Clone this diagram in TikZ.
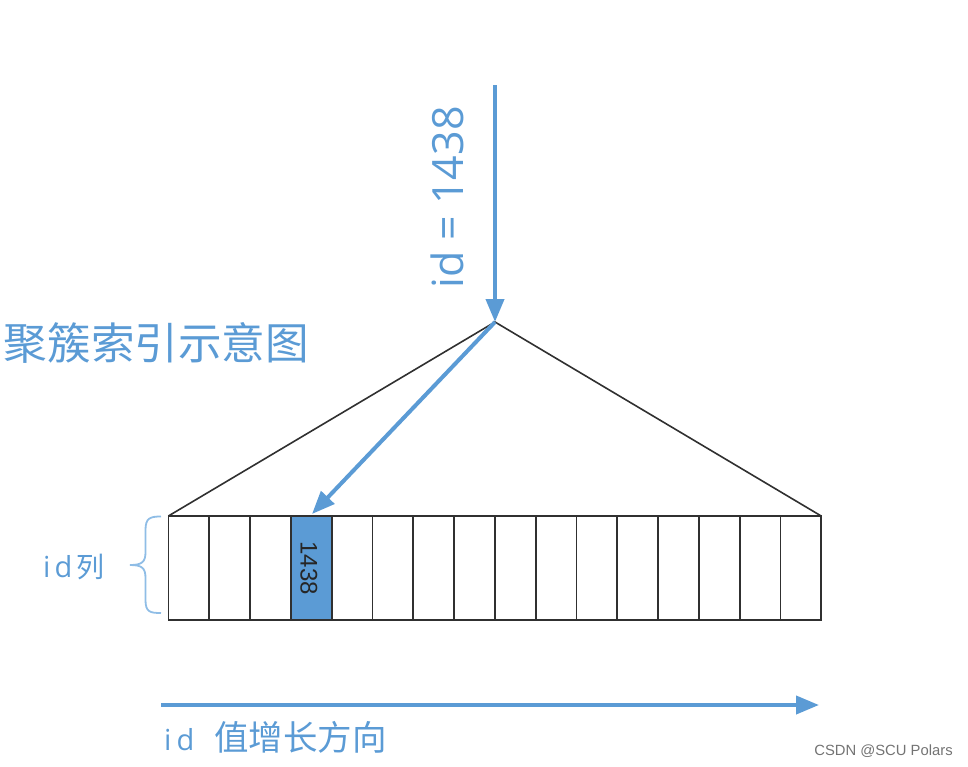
\documentclass[tikz,border=0pt]{standalone}
\usepackage{fontspec}
\setmainfont{Open Sans}
\newfontfamily\cjk{Noto Sans CJK SC}
\newfontfamily\wm{Liberation Sans}
\usetikzlibrary{arrows.meta}
\definecolor{bl}{HTML}{5B9BD5}
\definecolor{bracec}{HTML}{8FBDE6}
\definecolor{ln}{HTML}{303030}
\tikzset{
  cellbox/.style={draw=ln,line width=1.8pt,minimum width=40.8pt,minimum height=104pt,inner sep=0pt,outer sep=0pt,anchor=north west},
  hot/.style={cellbox,fill=bl},
  flow/.style={draw=bl,line width=4pt,-{Triangle[length=23pt,width=18pt]}},
  treeline/.style={draw=ln,line width=1.6pt},
  lab/.style={text=bl,inner sep=0pt,anchor=center}
}
\begin{document}
\begin{tikzpicture}[x=1pt,y=-1pt]
\useasboundingbox (0,0) rectangle (968,766);
\foreach \i in {0,...,15}{
  \pgfmathsetmacro{\xx}{168.4+40.8*\i}
  \ifnum\i=3
    \node[hot] (c\i) at (\xx,516) {};
  \else
    \node[cellbox] (c\i) at (\xx,516) {};
  \fi
}
\node[rotate=-90,text=black!85,inner sep=0pt,font=\wm\fontsize{24}{24}\selectfont] (v) at (309,568) {1438};
\coordinate (apex) at (495,322);
\coordinate (top) at (495,85);
\coordinate (hit) at (312,514);
\coordinate (gs) at (161,705);
\coordinate (ge) at (819,705);
\draw[treeline] (c0.north west) -- (apex) -- (c15.north east);
\draw[flow] (top) -- (apex);
\draw[flow] (apex) -- (hit);
\draw[flow] (gs) -- (ge);
\draw[draw=bracec,line width=1.8pt] (161,516.5) .. controls (150,516.5) and (145.5,518) .. (145.5,530)
  -- (145.5,552) .. controls (145.5,562) and (142,565) .. (130,565)
  .. controls (142,565) and (145.5,568) .. (145.5,578)
  -- (145.5,600) .. controls (145.5,612) and (150,613) .. (161,613);
\node[lab,rotate=90,font=\fontsize{43}{43}\selectfont] (q) at (447,197.5) {id = 1438};
\node[lab,font=\cjk\fontsize{43.6}{43.6}\selectfont] (title) at (156.5,342.5) {聚簇索引示意图};
\node[lab,font=\fontsize{29}{29}\selectfont,anchor=west] (col) at (43,567) {i\hspace{4pt}d\hspace{4pt}{\cjk\fontsize{28}{28}\selectfont 列}};
\node[lab,font=\fontsize{29}{29}\selectfont,anchor=west] (dir) at (164,737) {i\hspace{5pt}d\hspace{20pt}{\cjk\fontsize{34.5}{34.5}\selectfont 值增长方向}};
\node[text=black!55,inner sep=0pt,font=\wm\fontsize{14.8}{14.8}\selectfont] (mark) at (883.5,751) {CSDN @SCU Polars};
\end{tikzpicture}
\end{document}
